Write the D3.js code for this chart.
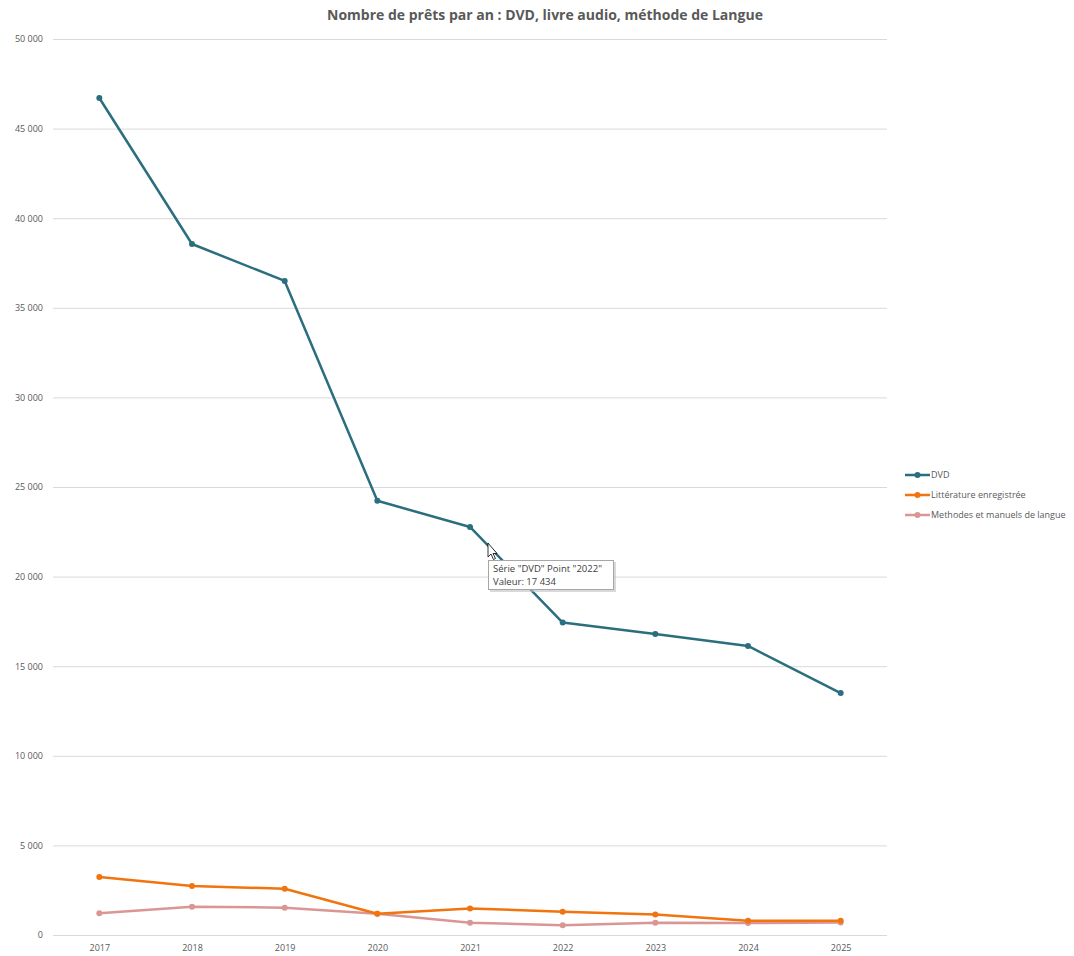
<!DOCTYPE html>
<html>
<head>
<meta charset="utf-8">
<script src="https://cdn.jsdelivr.net/npm/d3@7"></script>
<style>
  body { margin: 0; background: #fff; }
  svg { font-family: "Open Sans", "Liberation Sans", sans-serif; }
</style>
</head>
<body>
<svg id="chart" width="1074" height="956"></svg>
<script>
// data
var years = ['2017', '2018', '2019', '2020', '2021', '2022', '2023', '2024', '2025'];
var dvd = [46710, 38560, 36500, 24230, 22770, 17434, 16800, 16130, 13500];
var litterature = [3240, 2740, 2580, 1190, 1485, 1300, 1150, 800, 800];
var methodes = [1210, 1580, 1525, 1190, 690, 540, 690, 670, 700];
var seriesNames = ['DVD', 'Littérature enregistrée', 'Methodes et manuels de langue'];
var yTicks = [0, 5000, 10000, 15000, 20000, 25000, 30000, 35000, 40000, 45000, 50000];

var colors = ['#2b6e7e', '#f0740f', '#da9694'];
var allSeries = [dvd, litterature, methodes];

var svg = d3.select('#chart');
var plotLeft = 53, plotRight = 887, plotTop = 39, plotBottom = 935;

var x = d3.scalePoint().domain(years).range([plotLeft, plotRight]).padding(0.5);
var y = d3.scaleLinear().domain([0, 50000]).range([plotBottom, plotTop]);

// french number format: space as thousands separator
var fmt = function (v) { return d3.format(',')(v).replace(/,/g, ' '); };

// gridlines
svg.append('g')
  .selectAll('line')
  .data(yTicks.slice(1))
  .enter()
  .append('line')
  .attr('x1', plotLeft)
  .attr('x2', plotRight)
  .attr('y1', function (d) { return y(d) + 0.5; })
  .attr('y2', function (d) { return y(d) + 0.5; })
  .attr('stroke', '#d9d9d9')
  .attr('stroke-width', 1);

// y axis
var yAxis = svg.append('g')
  .attr('transform', 'translate(' + plotLeft + ',0)')
  .call(d3.axisLeft(y).tickValues(yTicks).tickSize(0).tickPadding(10).tickFormat(fmt))
  .attr('font-family', null)
  .attr('font-size', null);
yAxis.select('.domain').remove();
yAxis.selectAll('text')
  .attr('fill', '#595959')
  .style('font-size', '9px');

// x axis
var xAxis = svg.append('g')
  .attr('transform', 'translate(0,' + (plotBottom + 0.5) + ')')
  .call(d3.axisBottom(x).tickSize(0).tickPadding(9))
  .attr('font-family', null)
  .attr('font-size', null);
xAxis.select('.domain').attr('stroke', '#d9d9d9').attr('d', 'M' + plotLeft + ',0H' + plotRight);
xAxis.selectAll('text')
  .attr('fill', '#595959')
  .style('font-size', '9px');

// lines, drawn back to front
var line = d3.line()
  .x(function (d, i) { return x(years[i]); })
  .y(function (d) { return y(d); });

[2, 1, 0].forEach(function (s) {
  var g = svg.append('g');
  g.append('path')
    .datum(allSeries[s])
    .attr('d', line)
    .attr('fill', 'none')
    .attr('stroke', colors[s])
    .attr('stroke-width', 2.5)
    .attr('stroke-linejoin', 'round');
  g.selectAll('circle')
    .data(allSeries[s])
    .enter()
    .append('circle')
    .attr('cx', function (d, i) { return x(years[i]); })
    .attr('cy', function (d) { return y(d); })
    .attr('r', 3)
    .attr('fill', colors[s]);
});

// title
svg.append('text')
  .attr('x', 545)
  .attr('y', 20)
  .attr('text-anchor', 'middle')
  .attr('fill', '#595959')
  .style('font-size', '14px')
  .style('font-weight', 'bold')
  .text('Nombre de prêts par an : DVD, livre audio, méthode de Langue');

// legend
var legend = svg.append('g').attr('transform', 'translate(905,475)');
seriesNames.forEach(function (name, i) {
  var row = legend.append('g').attr('transform', 'translate(0,' + i * 20 + ')');
  row.append('line')
    .attr('x1', 0).attr('x2', 25)
    .attr('stroke', colors[i]).attr('stroke-width', 2.5);
  row.append('circle').attr('cx', 12.5).attr('r', 3).attr('fill', colors[i]);
  row.append('text')
    .attr('x', 26)
    .attr('dy', '0.35em')
    .attr('fill', '#595959')
    .style('font-size', '9px')
    .text(name);
});

// tooltip on DVD 2022
var tip = svg.append('g').attr('transform', 'translate(488,560)');
tip.append('rect')
  .attr('x', 2).attr('y', 2)
  .attr('width', 126).attr('height', 30)
  .attr('fill', '#bfbfbf').attr('opacity', 0.6);
tip.append('rect')
  .attr('x', 0.5).attr('y', 0.5)
  .attr('width', 125).attr('height', 29)
  .attr('fill', '#fff').attr('stroke', '#a6a6a6');
tip.append('text')
  .attr('x', 5).attr('y', 12)
  .attr('fill', '#404040')
  .style('font-size', '9.5px')
  .text('Série "DVD" Point "2022"');
tip.append('text')
  .attr('x', 5).attr('y', 25)
  .attr('fill', '#404040')
  .style('font-size', '9.5px')
  .text('Valeur: ' + fmt(dvd[5]));

// mouse cursor
svg.append('path')
  .attr('d', 'M488,543 L488,557 L491,554 L493.5,559.5 L495.5,558.5 L493,553.5 L497,553.5 Z')
  .attr('fill', '#fff')
  .attr('stroke', '#000')
  .attr('stroke-width', 0.8);
</script>
</body>
</html>
